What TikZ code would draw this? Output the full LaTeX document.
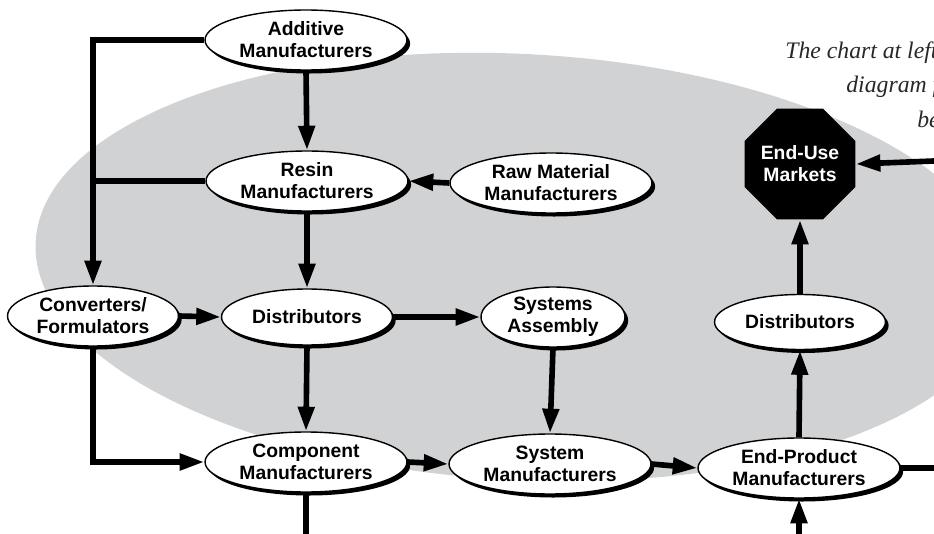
\documentclass[tikz,border=0pt]{standalone}
\usepackage{fontspec}
\usepackage{tikz}
\usetikzlibrary{shapes.geometric, arrows.meta, shadows}
\newfontfamily\labelfont{Liberation Sans}
\newfontfamily\notefont{Liberation Serif}
\definecolor{bgGray}{RGB}{209,210,212}
\definecolor{noteGray}{RGB}{40,40,40}

\begin{document}
\begin{tikzpicture}[
    x=0.02cm, y=-0.02cm,
    firm/.style={ellipse, draw, fill=white, line width=0.8pt, inner sep=0pt,
        drop shadow={shadow xshift=1.8pt, shadow yshift=-2pt, opacity=1, fill=black}},
    wideWidth/.style={minimum width=4.04cm},
    midWidth/.style={minimum width=3.42cm},
    narrowWidth/.style={minimum width=2.88cm},
    firmHeight/.style={minimum height=1.2cm},
    market/.style={regular polygon, regular polygon sides=8, minimum size=2.1cm,
        fill=black, text=white, inner sep=0pt},
    flow/.style={line width=3.2pt},
    noteText/.style={font=\notefont\itshape\fontsize{13.5}{16}\selectfont, text=noteGray, anchor=base west, inner sep=0pt},
    every node/.style={
        text centered, align=center,
        font=\labelfont\bfseries\fontsize{11}{12.6}\selectfont
        }
        ]
    \useasboundingbox (0, 0) rectangle (934, 534);
    \fill[bgGray, rotate around={-3:(520, 267)}] (520, 267) ellipse [x radius=485, y radius=213];

    \node[noteText] (noteA) at (785, 58) {The chart at left};
    \node[noteText] (noteB) at (846, 92) {diagram f};
    \node[noteText] (noteC) at (917, 127) {be};

    \node[firm, wideWidth, firmHeight] (additive) at (306, 40) {Additive\\Manufacturers};
    \node[firm, wideWidth, firmHeight] (resin) at (307, 181) {Resin\\Manufacturers};
    \node[firm, wideWidth, firmHeight] (raw) at (551, 183) {Raw Material\\Manufacturers};
    \node[firm, midWidth, firmHeight] (converters) at (93, 316) {Converters/\\Formulators};
    \node[firm, midWidth, minimum height=1.12cm] (distA) at (307, 317) {Distributors};
    \node[firm, narrowWidth, firmHeight] (assembly) at (553, 317) {Systems\\Assembly};
    \node[firm, wideWidth, firmHeight] (component) at (306, 462) {Component\\Manufacturers};
    \node[firm, wideWidth, firmHeight] (system) at (550, 464) {System\\Manufacturers};
    \node[firm, wideWidth, firmHeight] (endProduct) at (799, 468) {End-Product\\Manufacturers};
    \node[firm, midWidth, minimum height=1.1cm] (distB) at (800, 322) {Distributors};
    \node[market] (endUse) at (800, 164) {End-Use\\Markets};

    \coordinate (componentOut) at (306, 534);
    \coordinate (endProductOut) at (934, 468);
    \coordinate (endProductIn) at (799, 534);
    \coordinate (endUseIn) at (934, 161);

    \draw[->, >={Triangle[length=14pt, width=9pt]}, flow] (additive.west) -| (converters.north);
    \draw[flow] (resin.west) -- (resin.west -| converters.north);
    \draw[->, >={Triangle[length=14pt, width=9pt]}, flow] (additive.south) -- (resin.north);
    \draw[->, >={Triangle[length=14pt, width=9pt]}, flow] (raw.west) -- (resin.east);
    \draw[->, >={Triangle[length=14pt, width=9pt]}, flow] (resin.south) -- (distA.north);
    \draw[->, >={Triangle[length=14pt, width=9pt]}, flow] (converters.east) -- (distA.west);
    \draw[->, >={Triangle[length=14pt, width=9pt]}, flow] (converters.south) |- (component.west);
    \draw[->, >={Triangle[length=14pt, width=9pt]}, flow] (distA.east) -- (assembly.west);
    \draw[->, >={Triangle[length=14pt, width=9pt]}, flow] (distA.south) -- (component.north);
    \draw[->, >={Triangle[length=14pt, width=9pt]}, flow] (assembly.south) -- (system.north);
    \draw[->, >={Triangle[length=14pt, width=9pt]}, flow] (component.east) -- (system.west);
    \draw[->, >={Triangle[length=14pt, width=9pt]}, flow] (system.east) -- (endProduct.west);
    \draw[->, >={Triangle[length=14pt, width=9pt]}, flow] (endProduct.north) -- (distB.south);
    \draw[->, >={Triangle[length=14pt, width=9pt]}, flow] (distB.north) -- (endUse.south);
    \draw[flow] (component.south) -- (componentOut);
    \draw[flow] (endProduct.east) -- (endProductOut);
    \draw[->, >={Triangle[length=14pt, width=9pt]}, flow] (endProductIn) -- (endProduct.south);
    \draw[->, >={Triangle[length=14pt, width=9pt]}, flow] (endUseIn) -- (endUse.east);
\end{tikzpicture}
\end{document}
